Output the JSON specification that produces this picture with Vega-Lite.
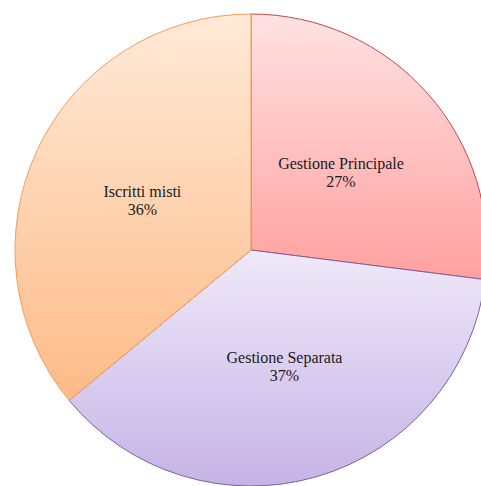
{
  "$schema": "https://vega.github.io/schema/vega-lite/v6.json",
  "width": 502,
  "height": 500,
  "autosize": {"type": "none"},
  "padding": 0,
  "background": "white",
  "data": {
    "values": [
      {"cat": "Gestione Principale", "value": 27, "ord": 1, "label": "Gestione Principale\n27%"},
      {"cat": "Gestione Separata", "value": 37, "ord": 2, "label": "Gestione Separata\n37%"},
      {"cat": "Iscritti misti", "value": 36, "ord": 3, "label": "Iscritti misti\n36%"}
    ]
  },
  "encoding": {
    "theta": {"field": "value", "type": "quantitative", "stack": true},
    "order": {"field": "ord", "type": "quantitative"}
  },
  "layer": [
    {
      "mark": {"type": "arc", "radius": 236, "strokeWidth": 1},
      "encoding": {
        "fill": {
          "condition": [
            {"test": "datum.cat === 'Gestione Principale'", "value": {"gradient": "linear", "x1": 0, "y1": 0, "x2": 0, "y2": 1, "stops": [{"offset": 0, "color": "#ffe2e2"}, {"offset": 1, "color": "#ffa0a0"}]}},
            {"test": "datum.cat === 'Gestione Separata'", "value": {"gradient": "linear", "x1": 0, "y1": 0, "x2": 0, "y2": 1, "stops": [{"offset": 0, "color": "#efe9f9"}, {"offset": 1, "color": "#c6b3e6"}]}}
          ],
          "value": {"gradient": "linear", "x1": 0, "y1": 0, "x2": 0, "y2": 1, "stops": [{"offset": 0, "color": "#ffead8"}, {"offset": 1, "color": "#fdbb87"}]}
        },
        "stroke": {
          "field": "cat",
          "type": "nominal",
          "scale": {"domain": ["Gestione Principale", "Gestione Separata", "Iscritti misti"], "range": ["#be4b48", "#7d60a0", "#f59d56"]},
          "legend": null
        }
      }
    },
    {
      "mark": {"type": "text", "radius": 120, "dy": -7, "font": "Liberation Serif", "fontSize": 16, "lineBreak": "\n", "lineHeight": 18, "baseline": "middle", "align": "center", "color": "#1a1a1a"},
      "encoding": {"text": {"field": "label", "type": "nominal"}}
    }
  ],
  "config": {"view": {"stroke": null}}
}
